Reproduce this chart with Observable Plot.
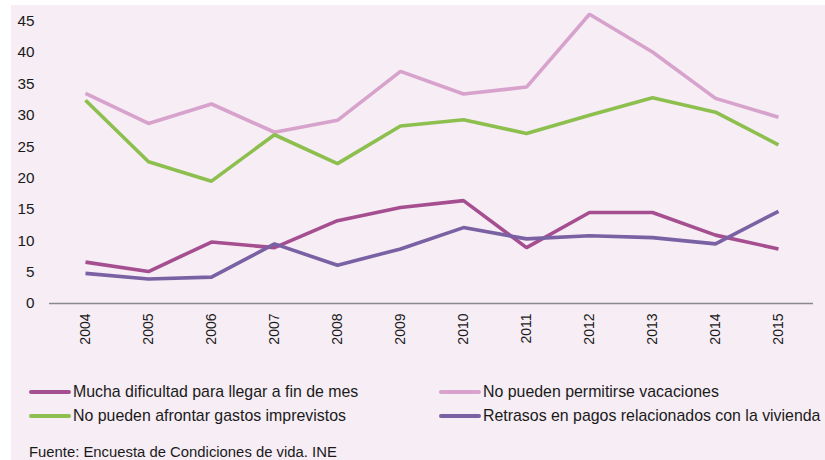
<!DOCTYPE html>
<html>
<head>
<meta charset="utf-8">
<script src="https://cdn.jsdelivr.net/npm/d3@7"></script>
<script src="https://cdn.jsdelivr.net/npm/@observablehq/plot@0.6"></script>
<style>
  html, body { margin: 0; padding: 0; background: #ffffff; }
  body { width: 825px; height: 460px; overflow: hidden; position: relative; font-family: "Liberation Sans", Arial, Helvetica, sans-serif; color: #1a1a1a; }
  #panel { position: absolute; left: 11px; top: 5px; width: 814px; height: 455px; background: #f6edf5; }
  #chart { position: absolute; left: 0; top: 0; }
  .leg { position: absolute; display: flex; align-items: center; font-size: 15.9px; line-height: 20px; white-space: nowrap; }
  .sw { width: 42px; height: 4px; border-radius: 2px; margin-right: 2px; }
  #caption { position: absolute; left: 18px; top: 438px; font-size: 14.85px; line-height: 18px; white-space: nowrap; }
</style>
</head>
<body>
<div id="panel">
  <div id="chart"></div>
  <div id="legend"></div>
  <div id="caption">Fuente: Encuesta de Condiciones de vida. INE</div>
</div>
<script>
const years = ["2004","2005","2006","2007","2008","2009","2010","2011","2012","2013","2014","2015"];
const seriesNames = [
  "Mucha dificultad para llegar a fin de mes",
  "No pueden permitirse vacaciones",
  "No pueden afrontar gastos imprevistos",
  "Retrasos en pagos relacionados con la vivienda"
];
const seriesColors = ["#a54f90", "#d7a2cb", "#8dbf4e", "#7a61a4"];
const dificultad  = [6.6, 5.1, 9.8, 8.9, 13.2, 15.3, 16.4, 8.9, 14.5, 14.5, 10.9, 8.7];
const vacaciones  = [33.5, 28.7, 31.8, 27.3, 29.2, 37.0, 33.4, 34.5, 46.1, 40.1, 32.7, 29.7];
const imprevistos = [32.4, 22.6, 19.5, 26.9, 22.3, 28.3, 29.3, 27.1, 30.0, 32.8, 30.5, 25.3];
const retrasos    = [4.8, 3.9, 4.2, 9.5, 6.1, 8.7, 12.1, 10.3, 10.8, 10.5, 9.5, 14.7];
const yTicks = [0, 5, 10, 15, 20, 25, 30, 35, 40, 45];

const allSeries = [dificultad, vacaciones, imprevistos, retrasos];
const data = [];
allSeries.forEach((vals, s) => {
  vals.forEach((v, i) => data.push({year: years[i], value: v, series: seriesNames[s]}));
});

const plot = Plot.plot({
  width: 814,
  height: 345,
  marginLeft: 38,
  marginRight: 12,
  marginTop: 15.7,
  marginBottom: 47,
  style: {background: "transparent", fontFamily: "'Liberation Sans', Arial, sans-serif", color: "#1a1a1a"},
  x: {type: "point", domain: years, padding: 0.5},
  y: {domain: [0, 45]},
  color: {domain: seriesNames, range: seriesColors},
  marks: [
    Plot.axisY({ticks: yTicks, tickSize: 0, tickPadding: 15, fontSize: 15.3, label: null}),
    Plot.axisX({tickSize: 0, tickPadding: 10, tickRotate: -90, fontSize: 14, label: null}),
    Plot.ruleY([0], {stroke: "#8a8a8a", strokeWidth: 1.6}),
    Plot.line(data, {x: "year", y: "value", z: "series", stroke: "series", strokeWidth: 3.6, strokeLinejoin: "miter", strokeLinecap: "butt", curve: "linear"})
  ]
});
document.getElementById("chart").appendChild(plot);

const legend = document.getElementById("legend");
const legPos = [[18, 377], [428, 377], [18, 401], [428, 401]];
seriesNames.forEach((name, i) => {
  const d = document.createElement("div");
  d.className = "leg";
  d.style.left = legPos[i][0] + "px";
  d.style.top = legPos[i][1] + "px";
  const sw = document.createElement("div");
  sw.className = "sw";
  sw.style.background = seriesColors[i];
  const t = document.createElement("span");
  t.textContent = name;
  d.appendChild(sw);
  d.appendChild(t);
  legend.appendChild(d);
});
</script>
</body>
</html>
